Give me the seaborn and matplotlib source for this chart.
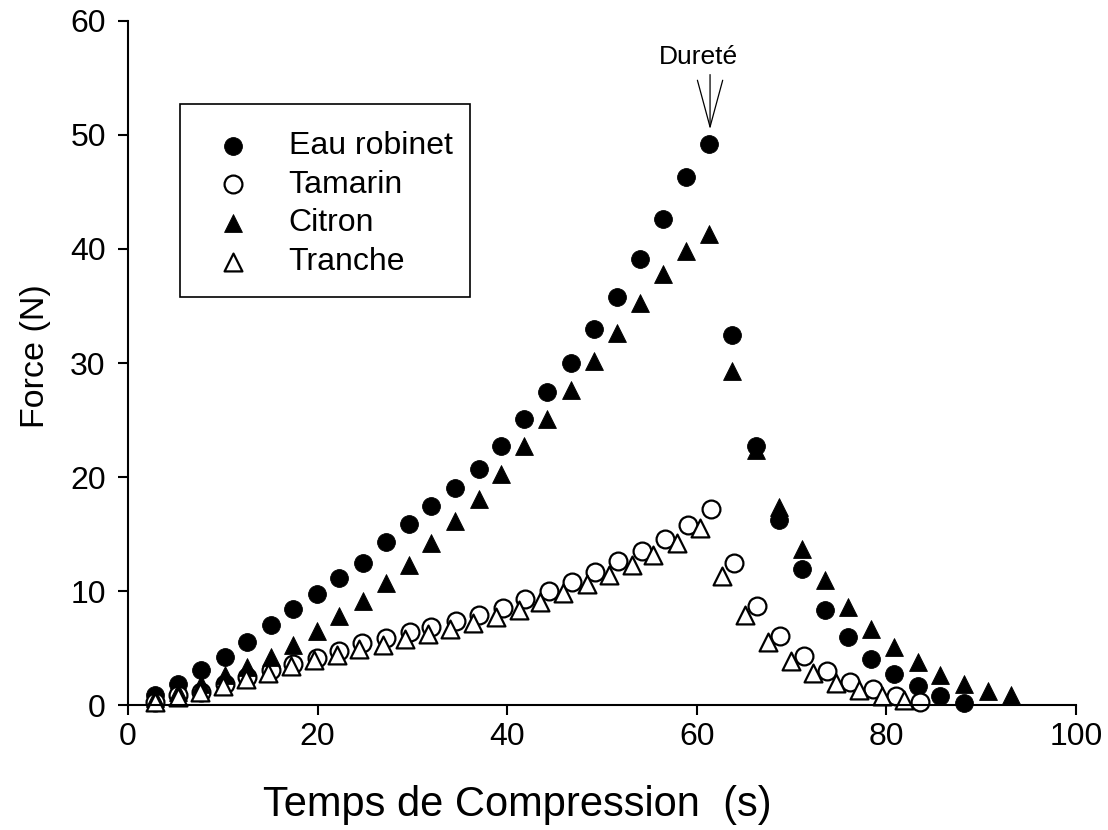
import numpy as np
import pandas as pd
import matplotlib
matplotlib.use("Agg")
import matplotlib.pyplot as plt
import seaborn as sns

# --- values ---
t_main = [2.85, 5.3, 7.7, 10.2, 12.6, 15.05, 17.4, 19.9, 22.3, 24.75,
          27.2, 29.6, 32.0, 34.5, 37.0, 39.4, 41.8, 44.2, 46.7, 49.2,
          51.6, 54.0, 56.4, 58.9, 61.3, 63.7, 66.2, 68.7, 71.1, 73.5,
          75.9, 78.4, 80.8, 83.3, 85.7, 88.2, 90.7, 93.1]

eau_force = [0.88, 1.84, 3.07, 4.24, 5.56, 7.0, 8.4, 9.74, 11.1, 12.5,
             14.3, 15.9, 17.5, 19.0, 20.7, 22.7, 25.1, 27.5, 30.0, 32.95,
             35.8, 39.1, 42.6, 46.3, 49.2, 32.5, 22.7, 16.2, 11.9, 8.3,
             6.0, 4.0, 2.7, 1.65, 0.8, 0.2]

citron_force = [0.6, 1.17, 1.84, 2.63, 3.36, 4.24, 5.3, 6.5, 7.8, 9.15,
                10.7, 12.3, 14.2, 16.1, 18.1, 20.3, 22.7, 25.1, 27.6, 30.2,
                32.6, 35.3, 37.8, 39.8, 41.3, 29.3, 22.4, 17.4, 13.7, 11.0,
                8.6, 6.7, 5.05, 3.8, 2.65, 1.8, 1.25, 0.9]

t_tamarin = [2.85, 5.3, 7.7, 10.2, 12.6, 15.05, 17.4, 19.9, 22.3, 24.7,
             27.2, 29.7, 32.0, 34.6, 37.0, 39.6, 41.9, 44.4, 46.8, 49.3,
             51.7, 54.2, 56.6, 59.1, 61.5, 63.95, 66.4, 68.8, 71.3, 73.7,
             76.2, 78.6, 81.0, 83.5]
tamarin_force = [0.3, 0.88, 1.17, 1.84, 2.48, 3.07, 3.6, 4.1, 4.76, 5.4,
                 5.85, 6.4, 6.8, 7.4, 7.9, 8.5, 9.3, 10.0, 10.8, 11.7,
                 12.6, 13.5, 14.6, 15.8, 17.15, 12.5, 8.7, 6.05, 4.3, 3.0,
                 2.05, 1.4, 0.8, 0.3]

t_tranche = [2.85, 5.3, 7.6, 10.0, 12.5, 14.8, 17.2, 19.6, 22.0, 24.4,
             26.9, 29.2, 31.7, 34.0, 36.4, 38.8, 41.2, 43.5, 45.9, 48.4,
             50.7, 53.2, 55.4, 57.9, 60.3, 62.7, 65.1, 67.5, 69.9, 72.3,
             74.7, 77.1, 79.5, 81.9]
tranche_force = [0.3, 0.73, 1.17, 1.67, 2.25, 2.77, 3.42, 3.95, 4.4, 4.9,
                 5.26, 5.76, 6.23, 6.7, 7.2, 7.75, 8.3, 9.06, 9.8, 10.6,
                 11.4, 12.3, 13.2, 14.2, 15.5, 11.3, 7.9, 5.55, 3.9, 2.8,
                 1.9, 1.3, 0.75, 0.4]

series = [
    ("Eau robinet", t_main[:len(eau_force)], eau_force, "o", "black"),
    ("Tamarin", t_tamarin, tamarin_force, "o", "white"),
    ("Citron", t_main[:len(citron_force)], citron_force, "^", "black"),
    ("Tranche", t_tranche, tranche_force, "^", "white"),
]

x_ticks = [0, 20, 40, 60, 80, 100]
y_ticks = [0, 10, 20, 30, 40, 50, 60]

sns.set_style("ticks")
plt.rcParams["font.family"] = ["Liberation Sans", "DejaVu Sans"]
plt.rcParams["text.color"] = "black"
plt.rcParams["axes.labelcolor"] = "black"
plt.rcParams["xtick.color"] = "black"
plt.rcParams["ytick.color"] = "black"

fig = plt.figure(figsize=(11.08, 8.30), dpi=100)
ax = fig.add_axes([0.1155, 0.1506, 0.8556, 0.8241])

for label, t, f, mk, fc in series:
    df = pd.DataFrame({"t": t, "f": f})
    lw = 1.6 if fc == "white" else 0.6
    sns.scatterplot(data=df, x="t", y="f", marker=mk, s=165, color=fc,
                    edgecolor="black", linewidth=lw, label=label, ax=ax,
                    legend=False, clip_on=False)

ax.set_xlim(0, 100)
ax.set_ylim(0, 60)
ax.set_xticks(x_ticks)
ax.set_yticks(y_ticks)
ax.tick_params(axis="both", direction="out", length=7, width=1.5,
               labelsize=23, color="black", labelcolor="black")
ax.tick_params(axis="x", pad=5)
ax.tick_params(axis="y", pad=9)
sns.despine(ax=ax)
for side in ["left", "bottom"]:
    ax.spines[side].set_linewidth(1.5)
    ax.spines[side].set_color("black")

ax.set_xlabel("Temps de Compression  (s)", fontsize=30, va="center")
ax.set_ylabel("Force (N)", fontsize=24.5, va="center")
ax.xaxis.set_label_coords(0.411, -0.146)
ax.yaxis.set_label_coords(-0.098, 0.51)

leg = ax.legend(loc="upper left", bbox_to_anchor=(0.0549, 0.8787),
                borderaxespad=0, fontsize=23, frameon=False,
                handlelength=1.6, handletextpad=0.95, borderpad=0.85,
                labelspacing=0.27, scatterpoints=1)
# square legend frame, sized like the reference box
ax.add_patch(plt.Rectangle((0.0549, 0.5965), 0.3059, 0.2822,
                           transform=ax.transAxes, fill=False,
                           edgecolor="black", linewidth=1.2, zorder=5))

# "Dureté" marker with a narrow open arrow head
ax.text(60.2, 56.8, "Dureté", ha="center", va="center", fontsize=19)
ax.annotate("", xy=(61.4, 50.5), xytext=(61.4, 55.3),
            arrowprops=dict(arrowstyle="->,head_length=2.4,head_width=0.65",
                            color="black", lw=0.9, shrinkA=0, shrinkB=0,
                            mutation_scale=14))

fig.savefig("out.png", dpi=100)
